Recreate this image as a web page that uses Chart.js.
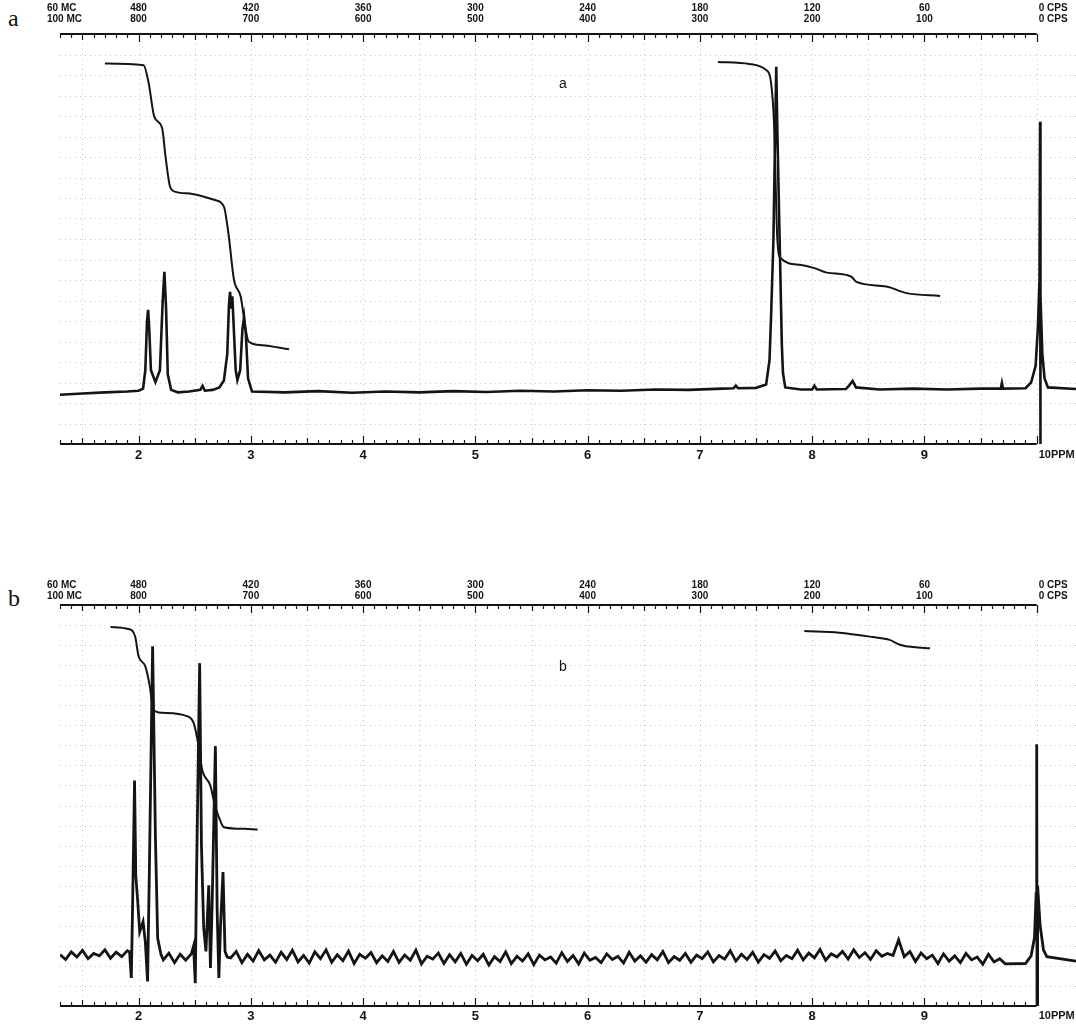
<!DOCTYPE html>
<html>
<head>
<meta charset="utf-8">
<title>NMR spectra a and b</title>
<script src="https://cdn.jsdelivr.net/npm/chart.js@4.4.1/dist/chart.umd.min.js"></script>
<style>
  html, body { margin: 0; padding: 0; background: #fff; }
  body { width: 1076px; height: 1025px; position: relative; overflow: hidden; }
  .panel { position: absolute; left: 0; width: 1076px; }
  .tag { position: absolute; left: 8px; font: 24px "Liberation Serif", "DejaVu Serif", serif; color: #141414; line-height: 24px; }
</style>
</head>
<body>
<div class="tag" style="top:6px">a</div>
<div class="panel" style="top:0;height:470px"><canvas id="chartA"></canvas></div>
<div class="tag" style="top:586px">b</div>
<div class="panel" style="top:571px;height:454px"><canvas id="chartB"></canvas></div>
<script>
// axis labels: ppm along the bottom, sweep offset in cps along the top
const ppmTicks = [2, 3, 4, 5, 6, 7, 8, 9];
const ppmLabels = ['2', '3', '4', '5', '6', '7', '8', '9'];
const cps60 = ['480', '420', '360', '300', '240', '180', '120', '60'];
const cps100 = ['800', '700', '600', '500', '400', '300', '200', '100'];
const mcLabels = ['60 MC', '100 MC'];
const zeroLabels = ['0 CPS', '0 CPS'];
const ppmEndLabel = '10PPM';
const ppmMin = 1.3, ppmMax = 10.35, ppmEnd = 10;

// spectrum a, [ppm, pen height]
const traceA = [
  [1.30, 12.0], [1.50, 12.3], [1.70, 12.6], [1.90, 12.8], [2.00, 13.0], [2.04, 13.5],
  [2.06, 18], [2.075, 30], [2.085, 32.7], [2.095, 28], [2.11, 18], [2.15, 15.1],
  [2.19, 18], [2.215, 35], [2.23, 42.0], [2.245, 33], [2.26, 17], [2.29, 13.2],
  [2.35, 12.6], [2.45, 12.8], [2.55, 13.2], [2.57, 14.2], [2.59, 13.0], [2.66, 13.2],
  [2.72, 13.8], [2.76, 15.5], [2.79, 22], [2.805, 34], [2.815, 37.1], [2.825, 33],
  [2.835, 36], [2.845, 30], [2.865, 18], [2.88, 15.6], [2.905, 18], [2.925, 28],
  [2.94, 31.0], [2.955, 27], [2.975, 16], [3.01, 12.8], [3.30, 12.6], [3.60, 12.9],
  [3.90, 12.5], [4.20, 12.8], [4.50, 12.6], [4.80, 12.9], [5.10, 12.7], [5.40, 13.0],
  [5.70, 12.8], [6.00, 13.1], [6.30, 13.0], [6.60, 13.3], [6.90, 13.2], [7.20, 13.5],
  [7.30, 13.6], [7.32, 14.2], [7.34, 13.6], [7.50, 13.7], [7.59, 14.5], [7.62, 20.5],
  [7.635, 32], [7.655, 50], [7.67, 76], [7.68, 92.0], [7.69, 76], [7.71, 50],
  [7.73, 24], [7.74, 17.3], [7.76, 13.8], [7.90, 13.3], [8.00, 13.3], [8.02, 14.2],
  [8.04, 13.3], [8.30, 13.4], [8.33, 14.3], [8.36, 15.4], [8.39, 13.8], [8.60, 13.3],
  [8.90, 13.5], [9.20, 13.3], [9.50, 13.5], [9.68, 13.5], [9.69, 14.9], [9.70, 13.5],
  [9.90, 13.6], [9.95, 15], [9.99, 19], [10.01, 28], [10.025, 40], [10.03, 78.6],
  [10.032, 0], [10.035, 36], [10.05, 22], [10.07, 16], [10.10, 13.8], [10.35, 13.4]
];
const integralA1 = [
  [1.70, 92.8], [2.045, 92.4], [2.09, 88.0], [2.14, 79.8], [2.21, 77.0], [2.24, 70.1],
  [2.28, 62.8], [2.33, 61.5], [2.48, 61.0], [2.68, 59.5], [2.76, 57.9], [2.80, 51.4],
  [2.85, 40.0], [2.91, 35.9], [2.95, 28.6], [2.98, 25.0], [3.10, 24.1], [3.34, 23.1]
];
const integralA2 = [
  [7.16, 93.2], [7.44, 92.7], [7.59, 91.2], [7.63, 88.8], [7.66, 78.3], [7.69, 49.8],
  [7.72, 45.3], [7.89, 43.7], [8.02, 42.9], [8.13, 41.8], [8.35, 40.8], [8.39, 39.6],
  [8.66, 38.4], [8.84, 36.8], [9.14, 36.1]
];

// spectrum b: noisy baseline read every 0.05 ppm, peaks read point by point
const noiseB1 = [12.8, 11.6, 13.5, 12.2, 13.9, 11.8, 13.1, 12.5, 14.0, 11.9, 13.4, 12.3, 13.8];
const noiseB2 = [11.5, 13.2, 10.8, 12.9, 11.4, 13.0];
const noiseB3 = [
  12.0, 13.6, 10.8, 12.9, 11.2, 13.8, 11.5, 12.7, 10.9, 13.4,
  11.6, 13.9, 11.0, 12.6, 10.7, 13.5, 11.8, 14.0, 10.9, 12.8,
  11.3, 13.7, 10.6, 12.9, 11.9, 13.3, 10.8, 12.5, 11.1, 13.6,
  10.9, 12.7, 11.4, 13.9, 10.5, 12.4, 11.7, 13.2, 10.6, 12.8,
  11.0, 13.1, 10.4, 12.6, 11.3, 12.9, 10.2, 12.3, 11.1, 13.5,
  10.6, 12.4, 11.2, 13.0, 10.3, 12.7, 11.5, 12.2, 10.7, 13.3,
  11.1, 12.6, 10.5, 13.2, 11.4, 12.1, 10.8, 13.0, 11.6, 12.4,
  10.7, 13.4, 11.2, 12.5, 10.9, 12.8, 11.5, 13.6, 10.8, 12.3,
  11.4, 13.1, 10.9, 12.7, 11.8, 13.5, 11.0, 12.6, 11.7, 13.8,
  11.2, 12.9, 11.6, 13.4, 10.9, 12.8, 11.9, 13.7, 11.3, 12.6,
  11.8, 13.9, 11.5, 13.2, 12.0, 14.1, 11.4, 13.0, 12.2, 13.6,
  11.7, 14.0, 12.1, 13.3, 11.6, 13.8, 12.4, 13.1, 12.6, 16.5,
  12.3, 13.6, 11.1, 13.2, 11.8, 12.7, 10.6, 13.0, 11.2, 12.5,
  10.8, 13.1, 11.5, 12.2, 10.4, 12.9, 11.0, 11.8
];
const peaksB1 = [
  [1.92, 13.5], [1.935, 7.0], [1.945, 22], [1.964, 56.2], [1.975, 32.6], [1.99, 27],
  [2.01, 18.5], [2.04, 21], [2.06, 16], [2.08, 6.1], [2.095, 32], [2.125, 89.7],
  [2.15, 42], [2.17, 16.9], [2.20, 12.8]
];
const peaksB2 = [
  [2.49, 15], [2.505, 5.7], [2.515, 30], [2.544, 85.5], [2.56, 40], [2.58, 19.4],
  [2.60, 13.6], [2.625, 30.1], [2.64, 9.5], [2.655, 25], [2.684, 64.8], [2.70, 23.6],
  [2.715, 7.0], [2.73, 20], [2.752, 33.4], [2.77, 13.6], [2.79, 12.2]
];
const tailB = [
  [9.72, 10.5], [9.90, 10.6], [9.95, 12.5], [9.98, 17], [9.995, 28], [10.00, 65.3],
  [10.003, -3], [10.008, 30], [10.03, 20.2], [10.06, 14], [10.09, 12.3], [10.35, 11.2]
];
const integralB1 = [
  [1.75, 94.5], [1.91, 94.0], [1.97, 92.1], [2.00, 87.2], [2.06, 84.7], [2.10, 79.7],
  [2.13, 73.9], [2.21, 73.1], [2.43, 72.3], [2.49, 70.6], [2.535, 64.8], [2.565, 59.1],
  [2.64, 54.9], [2.68, 50.0], [2.71, 47.5], [2.76, 44.6], [2.94, 44.2], [3.06, 44.0]
];
const integralB2 = [
  [7.93, 93.5], [8.24, 93.1], [8.54, 92.0], [8.69, 91.3], [8.78, 90.1], [8.90, 89.5],
  [9.05, 89.2]
];

const ink = '#141414';
const toPoints = pairs => pairs.map(p => ({ x: p[0], y: p[1] }));
const sampled = (from, step, vals) => vals.map((v, i) => [from + i * step, v]);

const traceB = [].concat(
  sampled(1.30, 0.05, noiseB1), peaksB1,
  sampled(2.22, 0.05, noiseB2), peaksB2,
  sampled(2.82, 0.05, noiseB3), tailB
).sort((p, q) => p[0] - q[0]);

const topFont = { family: '"Liberation Sans Narrow", "Liberation Sans", sans-serif', size: 10, weight: 'bold', lineHeight: 1.15 };
const bottomFont = { family: '"Liberation Sans", Arial, sans-serif', size: 13, weight: 'bold', lineHeight: 1.2 };

// chart paper, axis rules, minor ticks and the end labels
const paper = {
  id: 'paper',
  beforeDatasetsDraw(chart, args, o) {
    const { ctx, chartArea: a, scales: { x, y } } = chart;
    const end = x.getPixelForValue(ppmEnd);
    ctx.save();
    ctx.lineWidth = 1;
    ctx.strokeStyle = 'rgba(0,0,0,0.22)';
    ctx.setLineDash([1, 4]);
    ctx.beginPath();
    for (let v = 5; v < 100; v += 5) {
      const py = Math.round(y.getPixelForValue(v)) + 0.5;
      ctx.moveTo(a.left, py); ctx.lineTo(a.right, py);
    }
    for (let i = 3; i * 0.5 < ppmMax; i++) {
      const px = Math.round(x.getPixelForValue(i * 0.5)) + 0.5;
      ctx.moveTo(px, a.top); ctx.lineTo(px, a.bottom);
    }
    ctx.stroke();
    ctx.setLineDash([]);
    ctx.strokeStyle = ink;
    ctx.lineWidth = 2;
    ctx.beginPath();
    ctx.moveTo(a.left, a.top); ctx.lineTo(end, a.top);
    ctx.moveTo(a.left, a.bottom); ctx.lineTo(end, a.bottom);
    ctx.stroke();
    ctx.lineWidth = 1.2;
    ctx.beginPath();
    for (let i = 13; i <= 100; i++) {
      const px = Math.round(x.getPixelForValue(i / 10)) + 0.5;
      const len = i % 10 === 0 ? 8 : i % 5 === 0 ? 6 : 4;
      ctx.moveTo(px, a.top); ctx.lineTo(px, a.top + len);
      ctx.moveTo(px, a.bottom); ctx.lineTo(px, a.bottom - len);
    }
    ctx.stroke();
    ctx.restore();
  },
  afterDraw(chart, args, o) {
    const { ctx, chartArea: a, scales: { x, y } } = chart;
    const end = x.getPixelForValue(ppmEnd);
    const lh = topFont.size * topFont.lineHeight;
    const row2 = a.top - o.topGap - lh / 2;
    const row1 = row2 - lh;
    ctx.save();
    ctx.fillStyle = ink;
    ctx.textBaseline = 'middle';
    ctx.textAlign = 'left';
    ctx.font = 'bold 10px "Liberation Sans Narrow", "Liberation Sans", sans-serif';
    ctx.fillText(mcLabels[0], 47, row1);
    ctx.fillText(mcLabels[1], 47, row2);
    ctx.fillText(zeroLabels[0], end + 2, row1);
    ctx.fillText(zeroLabels[1], end + 2, row2);
    ctx.font = 'bold 11px "Liberation Sans", Arial, sans-serif';
    ctx.fillText(ppmEndLabel, end + 2, a.bottom + o.bottomGap + 7);
    ctx.textAlign = 'center';
    ctx.font = '14px "Liberation Sans", Arial, sans-serif';
    ctx.fillText(o.tag, x.getPixelForValue(o.tagAt[0]), y.getPixelForValue(o.tagAt[1]));
    ctx.restore();
  }
};

function spectrumChart(id, trace, integrals, opts) {
  return new Chart(document.getElementById(id), {
    type: 'line',
    data: {
      datasets: [
        { data: toPoints(trace), borderColor: ink, borderWidth: opts.traceWidth, pointRadius: 0, tension: 0 }
      ].concat(integrals.map(c => ({
        data: toPoints(c), borderColor: ink, borderWidth: 2, pointRadius: 0, cubicInterpolationMode: 'monotone'
      })))
    },
    options: {
      animation: false,
      responsive: true,
      maintainAspectRatio: false,
      layout: { padding: { left: 60, right: 0, top: 0, bottom: 0 } },
      plugins: {
        legend: { display: false },
        tooltip: { enabled: false },
        paper: { tag: opts.tag, tagAt: opts.tagAt, topGap: opts.topGap, bottomGap: opts.bottomGap }
      },
      scales: {
        x: {
          type: 'linear', position: 'bottom', min: ppmMin, max: ppmMax,
          afterBuildTicks: s => { s.ticks = ppmTicks.map(v => ({ value: v })); },
          afterFit: s => { s.height = opts.bottomHeight; },
          grid: { display: false, drawTicks: false },
          border: { display: false },
          ticks: { callback: (v, i) => ppmLabels[i], font: bottomFont, color: ink, padding: opts.bottomGap, maxRotation: 0, autoSkip: false }
        },
        x2: {
          type: 'linear', position: 'top', min: ppmMin, max: ppmMax,
          afterBuildTicks: s => { s.ticks = ppmTicks.map(v => ({ value: v })); },
          afterFit: s => { s.height = 34; },
          grid: { display: false, drawTicks: false },
          border: { display: false },
          ticks: { callback: (v, i) => [cps60[i], cps100[i]], font: topFont, color: ink, padding: opts.topGap, maxRotation: 0, autoSkip: false }
        },
        y: { display: false, min: 0, max: 100 }
      }
    },
    plugins: [paper]
  });
}

spectrumChart('chartA', traceA, [integralA1, integralA2], {
  tag: 'a', tagAt: [5.78, 87.7], traceWidth: 2.6, topGap: 9, bottomGap: 4, bottomHeight: 26
});
spectrumChart('chartB', traceB, [integralB1, integralB2], {
  tag: 'b', tagAt: [5.78, 84.4], traceWidth: 2.8, topGap: 3, bottomGap: 3, bottomHeight: 19
});
</script>
</body>
</html>
